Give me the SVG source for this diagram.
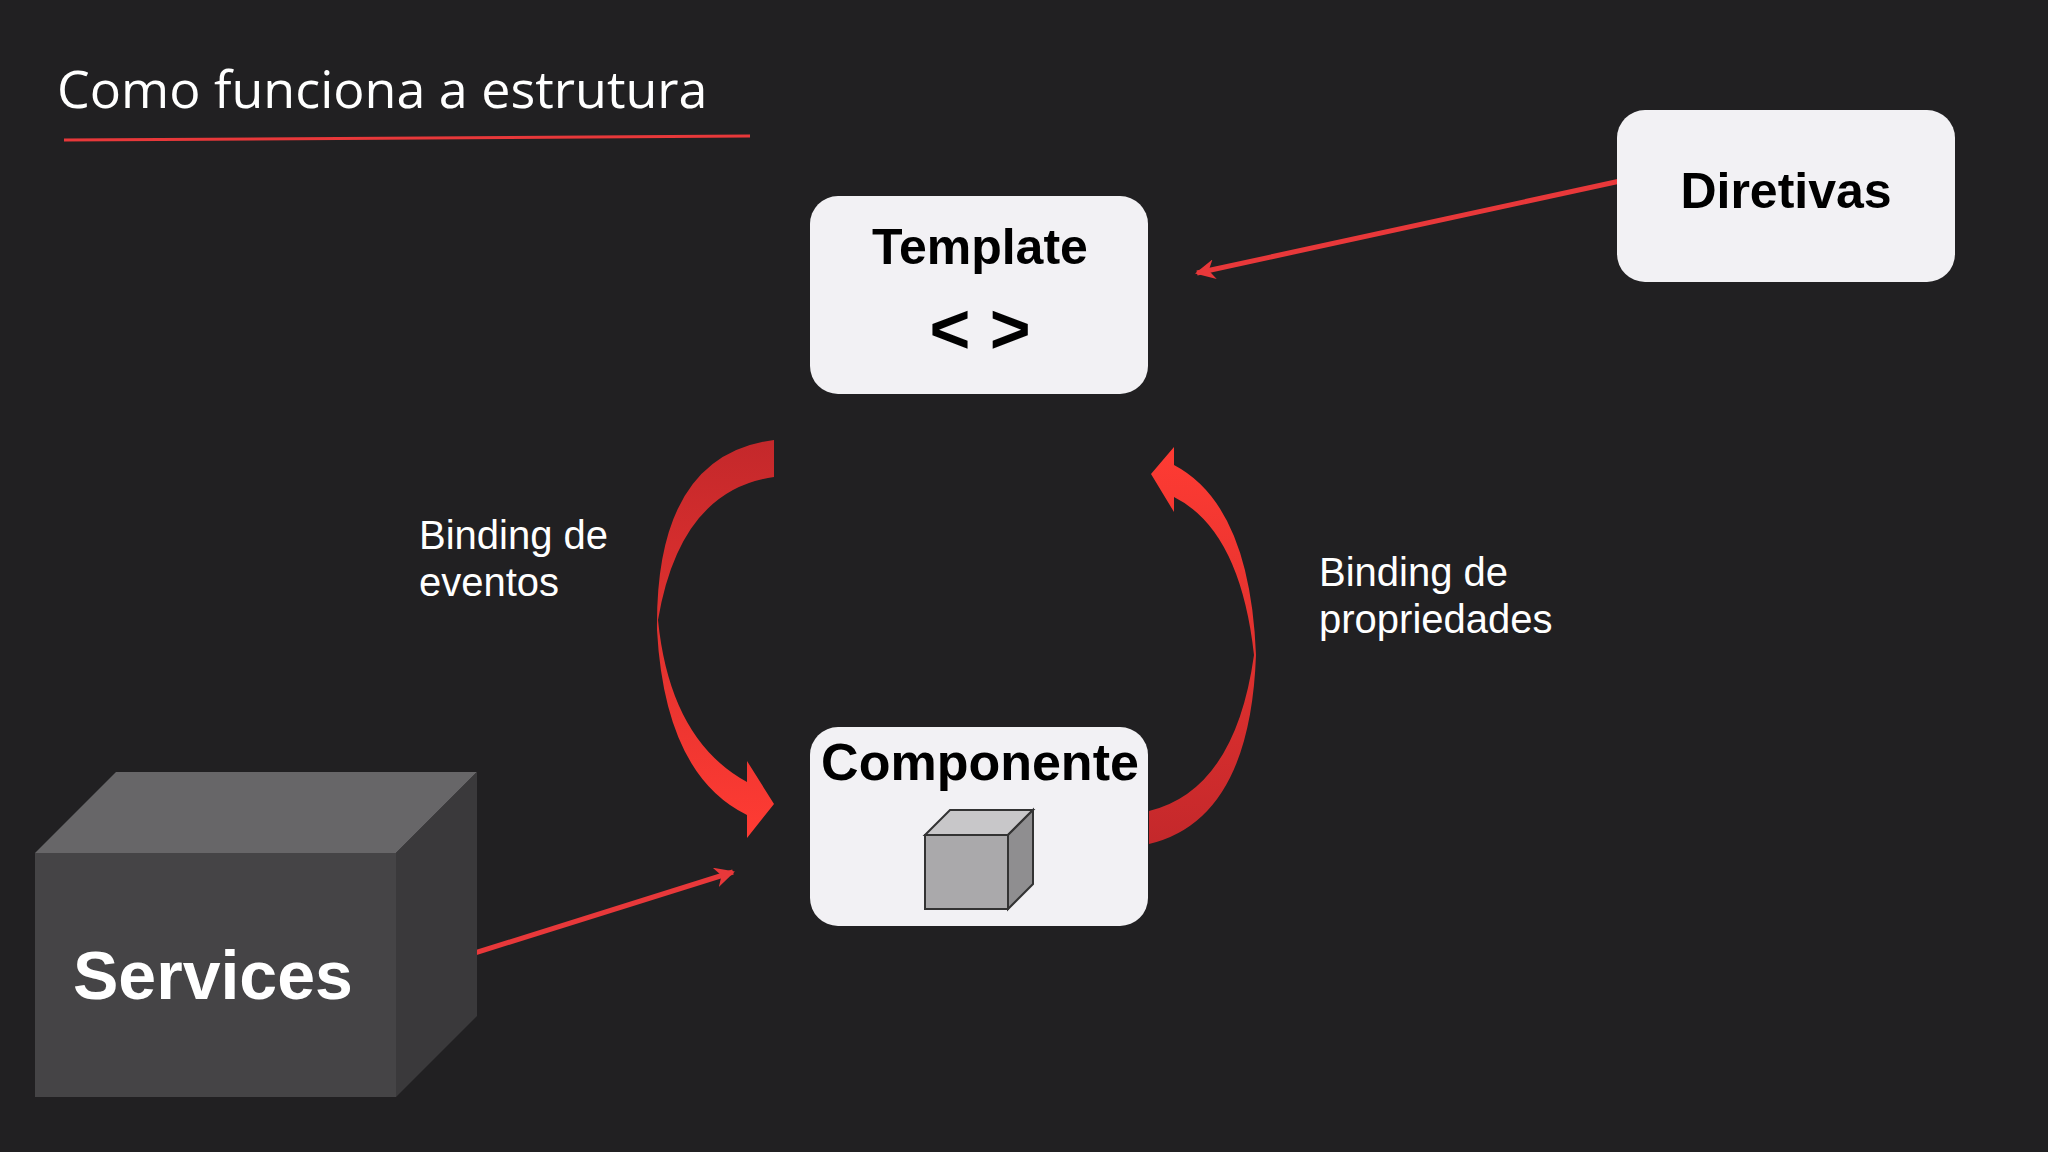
<svg xmlns="http://www.w3.org/2000/svg" width="2048" height="1152" viewBox="0 0 2048 1152">
<style>
.box{fill:#f2f1f4}
.lbl{font-family:"Liberation Sans",Arial,sans-serif;font-weight:bold;fill:#000;text-anchor:middle}
.txt{font-family:"Liberation Sans",Arial,sans-serif;fill:#fff;font-size:40px}
.ln{stroke:#e8383a;stroke-width:5;fill:none;marker-end:url(#ah)}
</style>
<defs>
<marker id="ah" viewBox="0 0 10 10" refX="9" refY="5" markerWidth="4" markerHeight="4" orient="auto" markerUnits="strokeWidth"><path d="M0,0 L10,5 L0,10 L3,5 Z" fill="#e8383a"/></marker>
<linearGradient id="gl" x1="0" y1="0" x2="0" y2="1"><stop offset="0" stop-color="#c4282b"/><stop offset="1" stop-color="#ff3b33"/></linearGradient>
<linearGradient id="gr" x1="0" y1="1" x2="0" y2="0"><stop offset="0" stop-color="#c4282b"/><stop offset="1" stop-color="#ff3b33"/></linearGradient>
</defs>
<rect width="2048" height="1152" fill="#212022"/>
<g id="title">
<text x="57" y="108" font-family="Open Sans,sans-serif" font-size="52" fill="#fff">Como funciona a estrutura</text>
<line x1="64" y1="140" x2="750" y2="136" stroke="#e8383a" stroke-width="3"/>
</g>
<g id="connectors">
<line class="ln" x1="1634" y1="178" x2="1197" y2="273"/>
<line class="ln" x1="427" y1="968" x2="733" y2="872"/>
<path d="M774,440 L774,477 Q680,490 658,620 Q670,740 747,782 L747,761 L774,804 L747,838 L747,815 Q665,775 657,630 Q655,455 774,440 Z" fill="url(#gl)"/>
<path d="M1149,844 L1149,811 Q1235,790 1254,655 Q1240,530 1174,497 L1174,512 L1151,474 L1174,447 L1174,465 Q1250,505 1256,655 Q1250,820 1149,844 Z" fill="url(#gr)"/>
</g>
<g id="template">
<rect class="box" x="810" y="196" width="338" height="198" rx="28"/>
<text class="lbl" x="980" y="264" font-size="50">Template</text>
<text class="lbl" x="980" y="353" font-size="70">&lt; &gt;</text>
</g>
<g id="diretivas">
<rect class="box" x="1617" y="110" width="338" height="172" rx="28"/>
<text class="lbl" x="1786" y="208" font-size="50">Diretivas</text>
</g>
<g id="componente">
<rect class="box" x="810" y="727" width="338" height="199" rx="28"/>
<text class="lbl" x="980" y="780" font-size="52">Componente</text>
<polygon points="925,835 950,810 1033,810 1008,835" fill="#c8c7c9" stroke="#333" stroke-width="2"/>
<polygon points="1008,835 1033,810 1033,884 1008,909" fill="#8f8e90" stroke="#333" stroke-width="2"/>
<rect x="925" y="835" width="83" height="74" fill="#aaa9ab" stroke="#333" stroke-width="2"/>
</g>
<g id="services">
<polygon points="35,853 116,772 477,772 396,853" fill="#676668"/>
<polygon points="396,853 477,772 477,1016 396,1097" fill="#3a393b"/>
<rect x="35" y="853" width="361" height="244" fill="#454446"/>
<text x="73" y="999" font-family="Liberation Sans,Arial,sans-serif" font-weight="bold" font-size="68" fill="#fff">Services</text>
</g>
<g id="label-eventos">
<text class="txt" x="419" y="549">Binding de</text>
<text class="txt" x="419" y="596">eventos</text>
</g>
<g id="label-propriedades">
<text class="txt" x="1319" y="586">Binding de</text>
<text class="txt" x="1319" y="633">propriedades</text>
</g>
</svg>
